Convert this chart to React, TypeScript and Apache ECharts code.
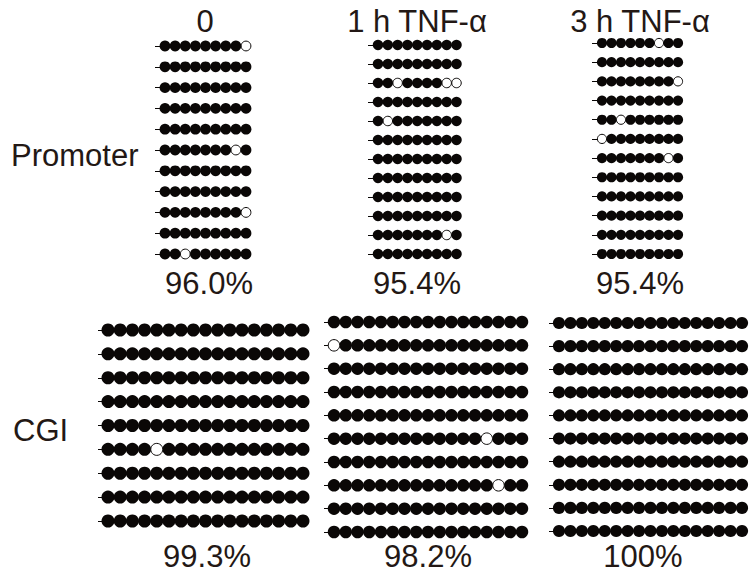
import React, { useEffect, useRef } from "react";
import * as echarts from "echarts";

// ---- data ----
const conditions = ["0", "1 h TNF-α", "3 h TNF-α"];
const regionLabels = ["Promoter", "CGI"];
const promoterPercent = ["96.0%", "95.4%", "95.4%"];
const cgiPercent = ["99.3%", "98.2%", "100%"];
const promoterSites = 9;
const cgiSites = 17;
const promoterClones = [11, 12, 12];
const cgiClones = [9, 10, 10];
// unmethylated CpG sites: [clone, site], 1-based
const promoter0Open = [[1, 9], [6, 8], [9, 9], [11, 3]];
const promoter1hOpen = [[3, 3], [3, 8], [3, 9], [5, 2], [11, 8]];
const promoter3hOpen = [[1, 7], [3, 9], [5, 3], [6, 1], [7, 8]];
const cgi0Open = [[6, 5]];
const cgi1hOpen = [[2, 1], [6, 14], [8, 15]];
const cgi3hOpen: number[][] = [];

// ---- layout (pixel positions of first/last dot centres) ----
const layouts = [
  { x0: 165, x1: 246, y0: 46, y1: 254, size: 10.8 },
  { x0: 378, x1: 456.5, y0: 45, y1: 254, size: 10.5 },
  { x0: 602, x1: 678, y0: 43, y1: 254, size: 10.2 },
  { x0: 108, x1: 303, y0: 330, y1: 521, size: 13.0 },
  { x0: 334, x1: 522, y0: 322, y1: 532, size: 12.5 },
  { x0: 559, x1: 742, y0: 323, y1: 531, size: 12.2 },
];

const TEXT_COLOR = "#231815";
const DOT_COLOR = "#0a0706";
const FONT = "'Liberation Sans', Arial, sans-serif";
const FONT_SIZE = 31;

export default function App() {
  const ref = useRef<HTMLDivElement>(null);
  useEffect(() => {
    if (!ref.current) return;
    const chart = echarts.init(ref.current, undefined, { renderer: "svg" });

    const panels = [
      { sites: promoterSites, clones: promoterClones[0], open: promoter0Open },
      { sites: promoterSites, clones: promoterClones[1], open: promoter1hOpen },
      { sites: promoterSites, clones: promoterClones[2], open: promoter3hOpen },
      { sites: cgiSites, clones: cgiClones[0], open: cgi0Open },
      { sites: cgiSites, clones: cgiClones[1], open: cgi1hOpen },
      { sites: cgiSites, clones: cgiClones[2], open: cgi3hOpen },
    ];

    const grid: any[] = [];
    const xAxis: any[] = [];
    const yAxis: any[] = [];
    const series: any[] = [];

    panels.forEach((p, i) => {
      const L = layouts[i];
      const sx = (L.x1 - L.x0) / (p.sites - 1);
      const sy = (L.y1 - L.y0) / (p.clones - 1);
      grid.push({
        left: L.x0 - sx,
        top: L.y0 - sy,
        width: (p.sites + 1) * sx,
        height: (p.clones + 1) * sy,
        containLabel: false,
      });
      xAxis.push({ type: "value", gridIndex: i, min: 0, max: p.sites + 1, show: false });
      yAxis.push({ type: "value", gridIndex: i, min: 0, max: p.clones + 1, inverse: true, show: false });

      const openSet = new Set(p.open.map(([c, s]) => c + "_" + s));
      const filled: number[][] = [];
      const open: number[][] = [];
      const stubs: any[] = [];
      const stubStart = 1 - 10 / sx;
      for (let c = 1; c <= p.clones; c++) {
        stubs.push({ coords: [[stubStart, c], [p.sites, c]] });
        for (let s = 1; s <= p.sites; s++) {
          if (openSet.has(c + "_" + s)) open.push([s, c]);
          else filled.push([s, c]);
        }
      }
      series.push({
        type: "lines",
        coordinateSystem: "cartesian2d",
        xAxisIndex: i,
        yAxisIndex: i,
        data: stubs,
        lineStyle: { color: DOT_COLOR, width: 1, opacity: 1 },
        silent: true,
        z: 1,
      });
      series.push({
        type: "scatter",
        xAxisIndex: i,
        yAxisIndex: i,
        data: filled,
        symbol: "circle",
        symbolSize: L.size,
        itemStyle: { color: DOT_COLOR, opacity: 1 },
        clip: false,
        silent: true,
        z: 2,
      });
      series.push({
        type: "scatter",
        xAxisIndex: i,
        yAxisIndex: i,
        data: open,
        symbol: "circle",
        symbolSize: L.size - 1,
        itemStyle: { color: "#ffffff", borderColor: DOT_COLOR, borderWidth: 1, opacity: 1 },
        clip: false,
        silent: true,
        z: 3,
      });
    });

    const textStyle = (x: number, y: number, text: string, align = "center") => ({
      type: "text",
      x,
      y,
      style: {
        text,
        fill: TEXT_COLOR,
        font: `${FONT_SIZE}px ${FONT}`,
        textAlign: align,
        textVerticalAlign: "middle",
      },
    });

    const titleX = [205, 417, 640];
    const promoterPctX = [209, 417, 640];
    const cgiPctX = [207, 428, 643];
    const graphic: any[] = [];
    conditions.forEach((c, i) => graphic.push(textStyle(titleX[i], 21, c)));
    promoterPercent.forEach((t, i) => graphic.push(textStyle(promoterPctX[i], 283, t)));
    cgiPercent.forEach((t, i) => graphic.push(textStyle(cgiPctX[i], 556, t)));
    graphic.push(textStyle(11, 155, regionLabels[0], "left"));
    graphic.push(textStyle(13, 430, regionLabels[1], "left"));

    chart.setOption({
      animation: false,
      backgroundColor: "#ffffff",
      grid,
      xAxis,
      yAxis,
      series,
      graphic,
    });
    return () => chart.dispose();
  }, []);

  return (
    <div
      ref={ref}
      style={{ position: "fixed", left: 0, top: 0, width: 756, height: 583 }}
    />
  );
}
